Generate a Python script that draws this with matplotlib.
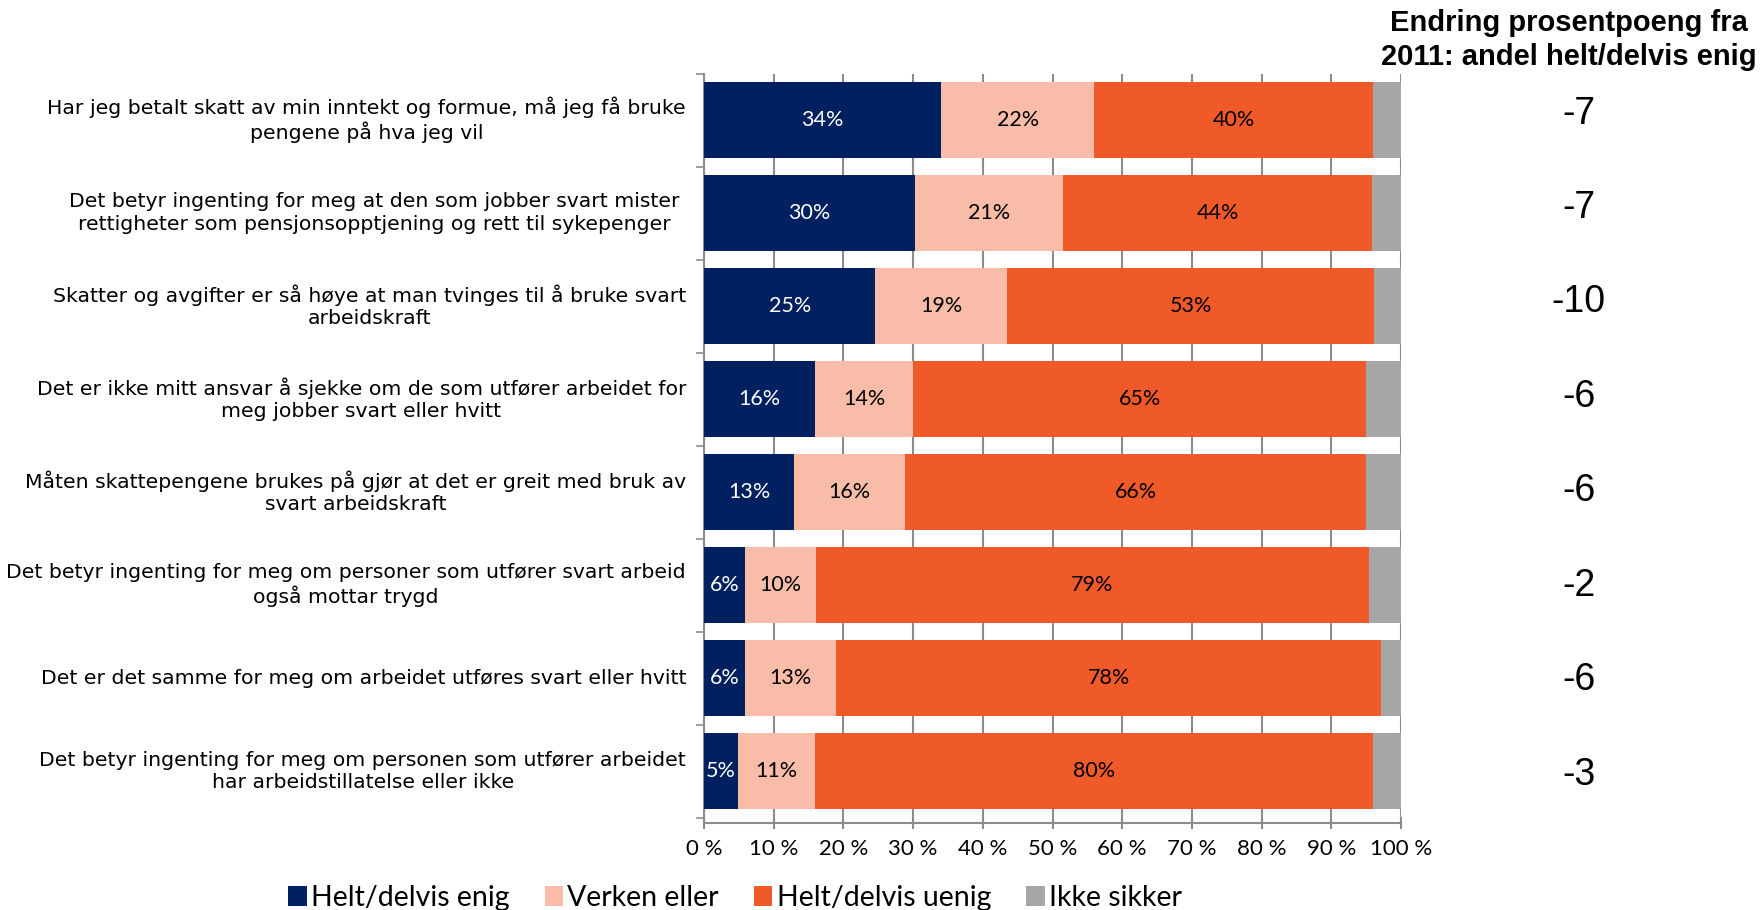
import matplotlib
matplotlib.use("Agg")
import matplotlib.pyplot as plt
import matplotlib.transforms as mtransforms
import numpy as np

categories = [
    "Har jeg betalt skatt av min inntekt og formue, må jeg få bruke\npengene på hva jeg vil",
    "Det betyr ingenting for meg at den som jobber svart mister\nrettigheter som pensjonsopptjening og rett til sykepenger",
    "Skatter og avgifter er så høye at man tvinges til å bruke svart\narbeidskraft",
    "Det er ikke mitt ansvar å sjekke om de som utfører arbeidet for\nmeg jobber svart eller hvitt",
    "Måten skattepengene brukes på gjør at det er greit med bruk av\nsvart arbeidskraft",
    "Det betyr ingenting for meg om personer som utfører svart arbeid\nogså mottar trygd",
    "Det er det samme for meg om arbeidet utføres svart eller hvitt",
    "Det betyr ingenting for meg om personen som utfører arbeidet\nhar arbeidstillatelse eller ikke",
]
enig = [34.0, 30.3, 24.6, 15.9, 12.9, 5.9, 5.9, 4.9]
verken = [22.0, 21.2, 18.9, 14.1, 15.9, 10.1, 13.1, 11.0]
uenig = [40.0, 44.4, 52.6, 65.0, 66.2, 79.4, 78.1, 80.1]
ikke_sikker = [4.0, 4.1, 3.9, 5.0, 5.0, 4.6, 2.9, 4.0]
endring = ["-7", "-7", "-10", "-6", "-6", "-2", "-6", "-3"]
series_names = ["Helt/delvis enig", "Verken eller", "Helt/delvis uenig", "Ikke sikker"]
colors = ["#002060", "#F8BCA8", "#F05A28", "#A6A6A6"]
label_colors = ["white", "black", "black", None]
header = "Endring prosentpoeng fra\n2011: andel helt/delvis enig"

W, H = 1760, 910
fig = plt.figure(figsize=(W / 100, H / 100), dpi=100)
ax_top, ax_bot = 73.5, 822.5
ax = fig.add_axes([704 / W, 1 - ax_bot / H, 697 / W, (ax_bot - ax_top) / H])

body_font = ["Lato", "DejaVu Sans"]
label_font = ["DejaVu Sans"]
n = len(categories)
y = np.arange(n)
left = np.zeros(n)
data = [enig, verken, uenig, ikke_sikker]
for vals, name, col, lc in zip(data, series_names, colors, label_colors):
    vals = np.array(vals)
    ax.barh(y, vals, left=left, height=0.82, color=col, label=name, zorder=3)
    if lc is not None:
        for yi, l, v in zip(y, left, vals):
            ax.text(l + v / 2, yi, f"{int(round(v))}%", ha="center", va="center",
                    color=lc, fontsize=15.5, family=body_font, zorder=4)
    left = left + vals

ax.set_xlim(0, 100)
ax.set_ylim(n - 0.45, -0.5)
ax.set_xticks(np.arange(0, 101, 10))
ax.set_xticklabels([f"{v} %" for v in range(0, 101, 10)], fontsize=16, family=body_font)
ax.xaxis.grid(True, color="#8C8C8C", linewidth=1.5, zorder=0)
ax.set_axisbelow(True)

ax.set_yticks(y)
ax.set_yticklabels([])
ax.tick_params(axis="y", length=0)
ax.set_yticks(np.arange(-0.5, n, 1), minor=True)
ax.tick_params(axis="y", which="minor", length=6, color="#8C8C8C", width=1.2, direction="out")
ax.tick_params(axis="x", length=8, color="#8C8C8C", width=1.5, direction="inout", pad=8)

for s in ["top", "right"]:
    ax.spines[s].set_visible(False)
for s in ["left", "bottom"]:
    ax.spines[s].set_color("#8C8C8C")
    ax.spines[s].set_linewidth(1.5)

# category labels: centred, but pushed left when they would reach the plot area
trans = mtransforms.blended_transform_factory(fig.transFigure, ax.transData)
center_px, right_px = 374, 686
cat_texts = []
for yi, cat in zip(y, categories):
    t = ax.text(center_px / W, yi, cat, transform=trans, ha="center", va="center",
                multialignment="center", fontsize=14.7, family=label_font,
                linespacing=1.22, clip_on=False)
    cat_texts.append(t)
fig.canvas.draw()
renderer = fig.canvas.get_renderer()
for t in cat_texts:
    w = t.get_window_extent(renderer).width
    cx = min(center_px, right_px - w / 2)
    t.set_x(cx / W)

for yi, txt in zip(y, endring):
    ax.text(1.255, yi - 0.07 + 0.015 * yi, txt, transform=ax.get_yaxis_transform(),
            ha="center", va="center", fontsize=27, family="Liberation Sans")

fig.text(1757 / W, 1 - 9 / H, header, ha="right", va="top", fontsize=21,
         fontweight="bold", family="Liberation Sans", linespacing=1.28,
         multialignment="center")

handles, labels = ax.get_legend_handles_labels()
leg = fig.legend(handles, labels, loc="center", bbox_to_anchor=(735 / W, 1 - 898 / H),
                 ncol=4, frameon=False, handlelength=0.65, handleheight=0.65,
                 handletextpad=0.15, columnspacing=1.23,
                 prop={"family": body_font, "size": 20.5})

fig.savefig("out.png", dpi=100)
